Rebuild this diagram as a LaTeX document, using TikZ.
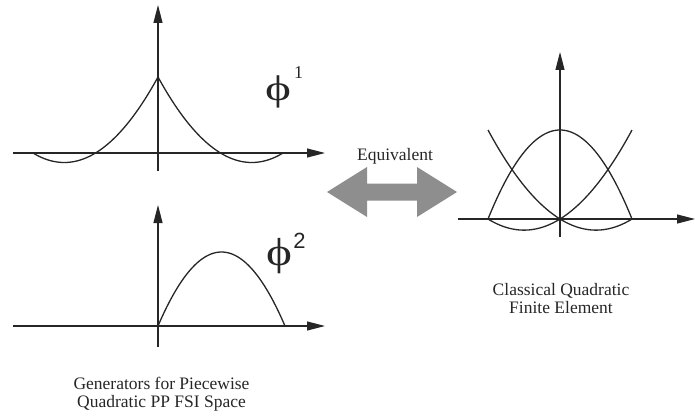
\documentclass[tikz,border=0pt]{standalone}
\usepackage{fontspec}
\usepackage{graphicx}
\setmainfont{Liberation Serif}
\newfontfamily\lsans{Liberation Sans}
\usetikzlibrary{arrows.meta}
\definecolor{arrgray}{HTML}{8E8E8E}
\definecolor{ink}{HTML}{262626}
\tikzset{
  axis/.style={draw=ink, line width=1.1pt, -{Triangle[length=18pt,width=9pt]}},
  curve/.style={draw=ink, line width=1.3pt, line join=round},
  lbl/.style={inner sep=0pt, anchor=base, text=ink, font=\fontsize{17.5}{18}\selectfont},
  phil/.style={inner sep=0pt, anchor=base, text=ink, font=\fontsize{34}{36}\selectfont},
}
\begin{document}
\begin{tikzpicture}[x=1pt,y=-1pt]
\useasboundingbox (0,0) rectangle (695,417);
% ---- top-left plot
\coordinate (h1s) at (13,153);
\coordinate (h1e) at (325,153);
\coordinate (v1s) at (158,171);
\coordinate (v1e) at (158,5);
\draw[axis] (h1s) -- (h1e);
\draw[axis] (v1s) -- (v1e);
\draw[curve] plot[domain=0:1,samples=60] ({158+125*\x},{153-76*(1-\x)*(1-2*\x)});
\draw[curve] plot[domain=0:1,samples=60] ({158-125*\x},{153-76*(1-\x)*(1-2*\x)});
\node[phil] (phi1) at (278,100) {\scalebox{1.45}[1.05]{ϕ}};
\node[inner sep=0pt, anchor=base, text=ink, font=\fontsize{18}{20}\selectfont] (sup1) at (298.5,79) {1};
% ---- bottom-left plot
\coordinate (h2s) at (13,326);
\coordinate (h2e) at (325,326);
\coordinate (v2s) at (158,347);
\coordinate (v2e) at (158,205);
\draw[axis] (h2s) -- (h2e);
\draw[axis] (v2s) -- (v2e);
\draw[curve] plot[domain=0:1,samples=60] ({158+127*\x},{326-74*4*\x*(1-\x)});
\node[phil] (phi2) at (279,265) {\scalebox{1.45}[1.15]{ϕ}};
\node[inner sep=0pt, anchor=base, text=ink, font=\lsans\fontsize{22}{24}\selectfont] (sup2) at (299.5,248) {2};
\node[lbl] (g1) at (161.5,389) {Generators for Piecewise};
\node[lbl] (g2) at (161.5,407) {Quadratic PP FSI Space};
% ---- equivalence arrow
\node[lbl] (eq) at (395,160) {Equivalent};
\fill[arrgray] (327,192) -- (367,167) -- (367,183.5) -- (417,183.5) -- (417,167)
  -- (457,192) -- (417,217) -- (417,200.5) -- (367,200.5) -- (367,217) -- cycle;
% ---- right plot
\coordinate (h3s) at (458,219);
\coordinate (h3e) at (695,219);
\coordinate (v3s) at (560,237);
\coordinate (v3e) at (560,52);
\draw[axis] (h3s) -- (h3e);
\draw[axis] (v3s) -- (v3e);
\draw[curve] plot[domain=-1:1,samples=80] ({560+72*\x},{219-89*(1-\x*\x)});
\draw[curve] plot[domain=-1:1,samples=80] ({560+72*\x},{219-89*\x*(\x-1)/2});
\draw[curve] plot[domain=-1:1,samples=80] ({560+72*\x},{219-89*\x*(\x+1)/2});
\node[lbl] (c1) at (561,295) {Classical Quadratic};
\node[lbl] (c2) at (561,313) {Finite Element};
\end{tikzpicture}
\end{document}
